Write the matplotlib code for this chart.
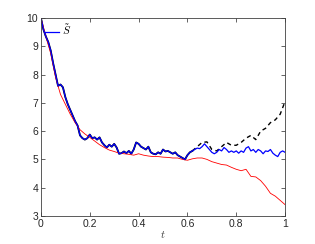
import numpy as np
import matplotlib
matplotlib.use("Agg")
import matplotlib.pyplot as plt

plt.rcParams["mathtext.fontset"] = "cm"
plt.rcParams["font.family"] = ["Liberation Sans", "DejaVu Sans"]

# blue path S~ (black solid path lies underneath it up to t=0.62)
t_blue = np.round(np.arange(0, 1.001, 0.01), 2)
s_blue = [10.0, 9.6, 9.35, 9.15, 8.85, 8.4, 8.0, 7.6, 7.65, 7.55,
          7.2, 6.95, 6.75, 6.55, 6.35, 6.2, 5.85, 5.75, 5.7, 5.75,
          5.88, 5.75, 5.78, 5.7, 5.78, 5.6, 5.5, 5.42, 5.52, 5.45,
          5.55, 5.42, 5.2, 5.22, 5.28, 5.22, 5.3, 5.2, 5.35, 5.6,
          5.55, 5.45, 5.4, 5.35, 5.45, 5.25, 5.2, 5.18, 5.25, 5.2,
          5.35, 5.28, 5.3, 5.25, 5.2, 5.25, 5.15, 5.1, 5.05, 5.0,
          5.15, 5.25, 5.3, 5.35, 5.4, 5.38, 5.45, 5.55, 5.45, 5.35,
          5.25, 5.2, 5.25, 5.35, 5.3, 5.42, 5.35, 5.25, 5.3, 5.25,
          5.3, 5.22, 5.3, 5.25, 5.4, 5.45, 5.3, 5.35, 5.25, 5.35,
          5.3, 5.2, 5.3, 5.28, 5.35, 5.22, 5.15, 5.1, 5.25, 5.3,
          5.25]

# black dashed continuation
t_dash = [0.62, 0.64, 0.66, 0.68, 0.70, 0.72, 0.74, 0.76, 0.78, 0.80,
          0.82, 0.84, 0.86, 0.88, 0.90, 0.92, 0.94, 0.96, 0.98, 1.00]
s_dash = [5.3, 5.45, 5.6, 5.62, 5.35, 5.3, 5.45, 5.6, 5.5, 5.5,
          5.6, 5.75, 5.85, 5.7, 6.0, 6.1, 6.3, 6.4, 6.6, 7.05]

# red lower curve
t_red = np.round(np.arange(0, 1.001, 0.02), 2)
s_red = [10.0, 9.35, 8.75, 7.9, 7.3, 6.95, 6.6, 6.3, 6.05, 5.9,
         5.78, 5.65, 5.52, 5.42, 5.33, 5.28, 5.22, 5.2, 5.18, 5.15,
         5.2, 5.15, 5.12, 5.1, 5.1, 5.08, 5.07, 5.05, 5.05, 5.0,
         4.97, 5.02, 5.05, 5.05, 5.0, 4.92, 4.87, 4.82, 4.8, 4.72,
         4.65, 4.6, 4.65, 4.4, 4.38, 4.25, 4.05, 3.8, 3.7, 3.55,
         3.4]

fig = plt.figure(figsize=(3.15, 2.44), dpi=100)
ax = fig.add_axes([0.130, 0.115, 0.775, 0.811])

n_solid = 63
ax.plot(t_blue[:n_solid], s_blue[:n_solid], color="black", lw=1.3)
ax.plot(t_dash, s_dash, color="black", lw=1.0, linestyle=(0, (3, 2.5)))
ax.plot(t_red, s_red, color="red", lw=0.6)
ax.plot(t_blue, s_blue, color="blue", lw=0.9, label=r"$\tilde{S}$")

ax.set_xlim(0, 1)
ax.set_ylim(3, 10)
ax.set_xticks([0, 0.2, 0.4, 0.6, 0.8, 1])
ax.set_xticklabels(["0", "0.2", "0.4", "0.6", "0.8", "1"])
ax.set_yticks(range(3, 11))
ax.tick_params(direction="in", length=3, width=0.5, labelsize=7.5,
               colors="#262626", top=True, right=True, pad=2)
for sp in ax.spines.values():
    sp.set_linewidth(0.6)
    sp.set_color("#404040")
ax.set_xlabel(r"$t$", fontsize=8, color="#404040", labelpad=0)

leg = ax.legend(loc="upper left", frameon=False, fontsize=8,
                handlelength=1.2, handletextpad=0.3, borderaxespad=0.1,
                borderpad=0.3)

fig.savefig("out.png", dpi=100)
